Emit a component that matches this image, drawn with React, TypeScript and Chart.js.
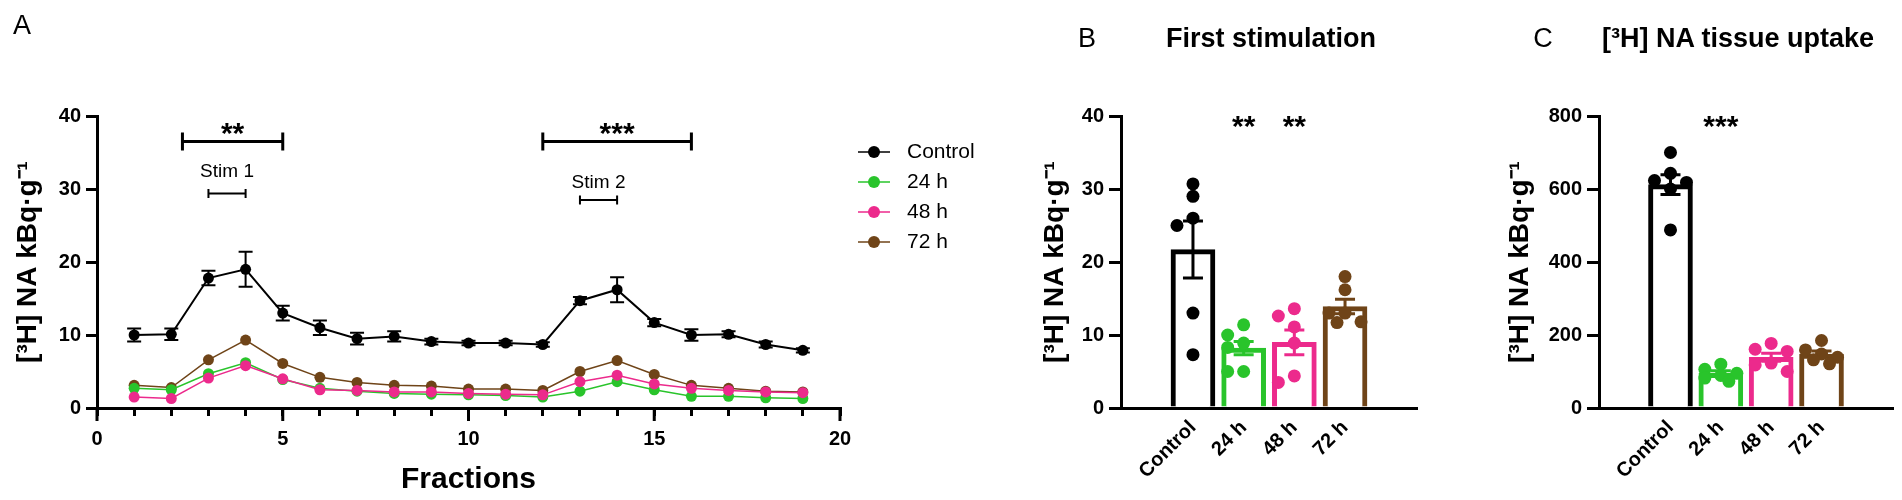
import React, { useEffect, useRef } from 'react'
import { Chart, registerables } from 'chart.js'

Chart.register(...registerables)

const FONT = "'Liberation Sans', Arial, sans-serif"
Chart.defaults.font.family = FONT
Chart.defaults.color = '#000'

// ---- panel A: release per fraction ----
const fractions = [1, 2, 3, 4, 5, 6, 7, 8, 9, 10, 11, 12, 13, 14, 15, 16, 17, 18, 19]
const controlRelease = [10.0, 10.1, 17.8, 19.0, 13.0, 11.0, 9.5, 9.8, 9.1, 8.9, 8.9, 8.7, 14.7, 16.2, 11.7, 10.0, 10.1, 8.7, 7.9]
const controlReleaseSem = [0.9, 0.8, 1.0, 2.4, 1.0, 1.0, 0.8, 0.7, 0.4, 0.3, 0.3, 0.3, 0.5, 1.7, 0.5, 0.8, 0.4, 0.4, 0.3]
const release24h = [2.7, 2.5, 4.7, 6.2, 3.9, 2.7, 2.3, 2.0, 1.9, 1.8, 1.7, 1.5, 2.3, 3.6, 2.5, 1.6, 1.6, 1.4, 1.3]
const release48h = [1.5, 1.3, 4.1, 5.8, 4.0, 2.5, 2.4, 2.2, 2.2, 2.0, 1.9, 1.8, 3.6, 4.5, 3.3, 2.7, 2.4, 2.2, 2.1]
const release72h = [3.1, 2.8, 6.6, 9.3, 6.1, 4.2, 3.5, 3.1, 3.0, 2.6, 2.6, 2.4, 5.0, 6.5, 4.6, 3.1, 2.7, 2.3, 2.2]

const sigBrackets = [
  { from: 2.3, to: 5, y: 36.5, label: '**' },
  { from: 12, to: 16, y: 36.5, label: '***' },
]
const stimBars = [
  { from: 3, to: 4, y: 29.4, label: 'Stim 1', labelY: 32.3 },
  { from: 13, to: 14, y: 28.5, label: 'Stim 2', labelY: 30.8 },
]

// ---- shared groups ----
const groups = ['Control', '24 h', '48 h', '72 h']
const groupColors = ['#000000', '#29c42b', '#ec2a8c', '#6f4418']

// ---- panel B: first stimulation ----
const firstStimPoints = [
  [30.7, 29.0, 26.0, 25.0, 13.0, 7.3],
  [11.4, 10.0, 8.9, 8.3, 5.0, 5.0],
  [13.6, 12.6, 11.1, 8.9, 4.4, 3.5],
  [18.0, 16.2, 13.0, 13.0, 11.8, 11.7],
]
const firstStimMean = [21.7, 8.2, 9.0, 13.9]
const firstStimSem = [3.9, 0.9, 1.7, 1.0]
const firstStimSig = ['', '**', '**', '']

// ---- panel C: tissue uptake ----
const uptakePoints = [
  [700, 643, 623, 618, 600, 488],
  [120, 106, 95, 89, 82, 73],
  [177, 161, 155, 123, 118, 100],
  [185, 159, 148, 139, 132, 121],
]
const uptakeMean = [612, 95, 139, 148]
const uptakeSem = [27, 7, 11, 8]
const uptakeSig = ['', '***', '', '']

const yTitle = '[³H] NA kBq·g⁻¹'

function makeErrorBars(datasetIndex: number, sems: number[], colors: string[], cap: number, width: number) {
  return {
    id: 'errorBars',
    afterDatasetDraw(chart: any, args: any) {
      if (args.index !== datasetIndex) return
      const { ctx } = chart
      const yScale = chart.scales.y
      const data = chart.data.datasets[datasetIndex].data
      ctx.save()
      ctx.lineWidth = width
      args.meta.data.forEach((el: any, i: number) => {
        const sem = sems[i]
        if (!sem) return
        const top = yScale.getPixelForValue(data[i].y + sem)
        const bot = yScale.getPixelForValue(data[i].y - sem)
        ctx.strokeStyle = colors[i % colors.length]
        ctx.beginPath()
        ctx.moveTo(el.x, top)
        ctx.lineTo(el.x, bot)
        ctx.moveTo(el.x - cap, top)
        ctx.lineTo(el.x + cap, top)
        ctx.moveTo(el.x - cap, bot)
        ctx.lineTo(el.x + cap, bot)
        ctx.stroke()
      })
      ctx.restore()
    },
  }
}

// spread overlapping dots sideways (column scatter), kept within one step of the centre
const swarmPlugin = {
  id: 'swarm',
  afterDatasetsUpdate(chart: any) {
    chart.data.datasets.forEach((ds: any, di: number) => {
      if (ds.type !== 'scatter') return
      const meta = chart.getDatasetMeta(di)
      const d = 11
      const step = 16
      const placed: { x: number; y: number }[] = []
      const order = meta.data.map((_: any, i: number) => i).sort((a: number, b: number) => meta.data[a].y - meta.data[b].y)
      order.forEach((i: number) => {
        const el = meta.data[i]
        const cx = el.x
        let best = 0
        let bestGap = -1
        for (const o of [0, -step, step, -step / 2, step / 2]) {
          const gap = placed.reduce((m, p) => Math.min(m, Math.hypot(p.x - (cx + o), p.y - el.y)), Infinity)
          if (gap >= d) {
            best = o
            break
          }
          if (gap > bestGap) {
            bestGap = gap
            best = o
          }
        }
        el.x = cx + best
        placed.push({ x: el.x, y: el.y })
      })
    })
  },
}

function makeSigLabels(labels: string[], yValue: number) {
  return {
    id: 'sigLabels',
    afterDraw(chart: any) {
      const { ctx, scales } = chart
      ctx.save()
      ctx.font = `bold 30px ${FONT}`
      ctx.fillStyle = '#000'
      ctx.textAlign = 'center'
      ctx.textBaseline = 'alphabetic'
      labels.forEach((s, i) => {
        if (!s) return
        ctx.fillText(s, scales.x.getPixelForValue(i), scales.y.getPixelForValue(yValue))
      })
      ctx.restore()
    },
  }
}

const releaseAnnotations = {
  id: 'releaseAnnotations',
  afterDraw(chart: any) {
    const { ctx, scales, chartArea } = chart
    const x = scales.x
    const y = scales.y
    ctx.save()
    ctx.strokeStyle = '#000'
    ctx.fillStyle = '#000'
    ctx.textAlign = 'center'

    // longer marks on the labelled fractions
    ctx.lineWidth = 3
    ctx.beginPath()
    x.ticks.forEach((t: any) => {
      if (t.value % 5 !== 0) return
      const px = x.getPixelForValue(t.value)
      ctx.moveTo(px, chartArea.bottom)
      ctx.lineTo(px, chartArea.bottom + 13)
    })
    ctx.stroke()

    sigBrackets.forEach((b) => {
      const x1 = x.getPixelForValue(b.from)
      const x2 = x.getPixelForValue(b.to)
      const py = y.getPixelForValue(b.y)
      ctx.lineWidth = 3
      ctx.beginPath()
      ctx.moveTo(x1, py)
      ctx.lineTo(x2, py)
      ctx.moveTo(x1, py - 9)
      ctx.lineTo(x1, py + 9)
      ctx.moveTo(x2, py - 9)
      ctx.lineTo(x2, py + 9)
      ctx.stroke()
      ctx.font = `bold 30px ${FONT}`
      ctx.textBaseline = 'alphabetic'
      ctx.fillText(b.label, (x1 + x2) / 2, py + 1)
    })
    stimBars.forEach((s) => {
      const x1 = x.getPixelForValue(s.from)
      const x2 = x.getPixelForValue(s.to)
      const py = y.getPixelForValue(s.y)
      ctx.lineWidth = 2
      ctx.beginPath()
      ctx.moveTo(x1, py)
      ctx.lineTo(x2, py)
      ctx.moveTo(x1, py - 4.5)
      ctx.lineTo(x1, py + 4.5)
      ctx.moveTo(x2, py - 4.5)
      ctx.lineTo(x2, py + 4.5)
      ctx.stroke()
      ctx.font = `19px ${FONT}`
      ctx.textBaseline = 'middle'
      ctx.fillText(s.label, (x1 + x2) / 2, y.getPixelForValue(s.labelY))
    })
    ctx.restore()
  },
}

const seriesLegend = {
  id: 'seriesLegend',
  afterDraw(chart: any) {
    const { ctx } = chart
    ctx.save()
    groups.forEach((name, i) => {
      const y = 152 + i * 30
      ctx.strokeStyle = groupColors[i]
      ctx.lineWidth = 1.5
      ctx.beginPath()
      ctx.moveTo(858, y)
      ctx.lineTo(890, y)
      ctx.stroke()
      ctx.fillStyle = groupColors[i]
      ctx.beginPath()
      ctx.arc(874, y, 6, 0, Math.PI * 2)
      ctx.fill()
      ctx.fillStyle = '#000'
      ctx.font = `21px ${FONT}`
      ctx.textAlign = 'left'
      ctx.textBaseline = 'middle'
      ctx.fillText(name, 907, y)
    })
    ctx.restore()
  },
}

const axisLine = { display: true, width: 3, color: '#000' }

function ReleaseChart() {
  const ref = useRef<HTMLCanvasElement>(null)

  useEffect(() => {
    const canvas = ref.current
    if (!canvas) return

    const series = [controlRelease, release24h, release48h, release72h]
    const drawOrder = [0, 2, 1, 3]

    const chart = new Chart(canvas, {
      type: 'line',
      data: {
        datasets: series.map((vals, i) => ({
          label: groups[i],
          data: vals.map((v, k) => ({ x: fractions[k], y: v })),
          borderColor: groupColors[i],
          backgroundColor: groupColors[i],
          borderWidth: i === 0 ? 2 : 1.5,
          pointRadius: 5.5,
          pointBorderWidth: 0,
          pointBackgroundColor: groupColors[i],
          order: drawOrder[i],
        })),
      },
      options: {
        responsive: false,
        animation: false,
        layout: { padding: { top: 116, right: 160, left: 0, bottom: 0 } },
        plugins: { legend: { display: false }, tooltip: { enabled: false } },
        scales: {
          x: {
            type: 'linear',
            min: 0,
            max: 20,
            afterFit: (s: any) => {
              s.height = 92
            },
            ticks: {
              stepSize: 1,
              autoSkip: false,
              maxRotation: 0,
              padding: 11,
              font: { size: 20, weight: 'bold' },
              callback: (v: any) => (v % 5 === 0 ? String(v) : ''),
            },
            grid: { drawOnChartArea: false, tickLength: 8, lineWidth: 3, color: '#000' },
            border: axisLine,
            title: { display: true, text: 'Fractions', font: { size: 30, weight: 'bold' }, padding: { top: 0, bottom: 2 } },
          },
          y: {
            min: 0,
            max: 40,
            afterFit: (s: any) => {
              s.width = 97
            },
            ticks: { stepSize: 10, padding: 5, font: { size: 20, weight: 'bold' } },
            grid: { drawOnChartArea: false, tickLength: 11, lineWidth: 3, color: '#000' },
            border: axisLine,
            title: { display: true, text: yTitle, font: { size: 28, weight: 'bold' }, padding: { top: 11, bottom: 0 } },
          },
        },
      },
      plugins: [makeErrorBars(0, controlReleaseSem, ['#000'], 7, 2), releaseAnnotations, seriesLegend],
    } as any)

    return () => {
      chart.destroy()
    }
  }, [])

  return <canvas ref={ref} width={1000} height={500} />
}

interface ColumnProps {
  width: number
  axisWidth: number
  titlePad: number
  rightPad: number
  yMax: number
  yStep: number
  means: number[]
  sems: number[]
  points: number[][]
  sig: string[]
  sigY: number
}

function ColumnChart(props: ColumnProps) {
  const ref = useRef<HTMLCanvasElement>(null)

  useEffect(() => {
    const canvas = ref.current
    if (!canvas) return
    const { axisWidth, titlePad, rightPad, yMax, yStep, means, sems, points, sig, sigY } = props

    const dots = points.flatMap((vals, gi) => vals.map((v) => ({ x: gi, y: v })))
    const dotColors = points.flatMap((vals, gi) => vals.map(() => groupColors[gi]))

    const chart = new Chart(canvas, {
      type: 'bar',
      data: {
        datasets: [
          {
            type: 'bar',
            data: means.map((m, i) => ({ x: i, y: m })),
            backgroundColor: '#ffffff',
            borderColor: groupColors,
            borderWidth: 5,
            barThickness: 44,
            order: 2,
          },
          {
            type: 'scatter',
            data: dots,
            pointBackgroundColor: dotColors,
            pointBorderWidth: 0,
            pointRadius: 6.5,
            order: 1,
          },
        ],
      },
      options: {
        responsive: false,
        animation: false,
        layout: { padding: { top: 116, right: rightPad, left: 0, bottom: 0 } },
        plugins: { legend: { display: false }, tooltip: { enabled: false } },
        scales: {
          x: {
            type: 'linear',
            min: -0.69,
            max: groups.length - 1 + 0.69,
            afterBuildTicks: (s: any) => {
              s.ticks = groups.map((_, i) => ({ value: i }))
            },
            afterFit: (s: any) => {
              s.height = 92
            },
            ticks: {
              autoSkip: false,
              minRotation: 45,
              maxRotation: 45,
              padding: 8,
              font: { size: 20, weight: 'bold' },
              callback: (v: any) => groups[v],
            },
            grid: { display: false, drawTicks: false },
            border: axisLine,
          },
          y: {
            min: 0,
            max: yMax,
            afterFit: (s: any) => {
              s.width = axisWidth
            },
            ticks: { stepSize: yStep, padding: 5, font: { size: 20, weight: 'bold' } },
            grid: { drawOnChartArea: false, tickLength: 12, lineWidth: 3, color: '#000' },
            border: axisLine,
            title: { display: true, text: yTitle, font: { size: 28, weight: 'bold' }, padding: { top: titlePad, bottom: 0 } },
          },
        },
      },
      plugins: [swarmPlugin, makeErrorBars(0, sems, groupColors, 10, 3), makeSigLabels(sig, sigY)],
    } as any)

    return () => {
      chart.destroy()
    }
  }, [])

  return <canvas ref={ref} width={props.width} height={500} />
}

const label = (x: number, y: number, bold: boolean, size: number): React.CSSProperties => ({
  position: 'absolute',
  left: x,
  top: y,
  transform: 'translate(-50%, -50%)',
  fontFamily: FONT,
  fontWeight: bold ? 'bold' : 'normal',
  fontSize: size,
  whiteSpace: 'nowrap',
  color: '#000',
})

export default function App() {
  return (
    <div style={{ position: 'absolute', left: 0, top: 0, width: 1902, height: 500, background: '#fff', overflow: 'hidden' }}>
      <div style={{ position: 'absolute', left: 0, top: 0 }}>
        <ReleaseChart />
      </div>
      <div style={{ position: 'absolute', left: 1000, top: 0 }}>
        <ColumnChart
          width={430}
          axisWidth={121}
          titlePad={38}
          rightPad={13}
          yMax={40}
          yStep={10}
          means={firstStimMean}
          sems={firstStimSem}
          points={firstStimPoints}
          sig={firstStimSig}
          sigY={37.3}
        />
      </div>
      <div style={{ position: 'absolute', left: 1440, top: 0 }}>
        <ColumnChart
          width={462}
          axisWidth={159}
          titlePad={63}
          rightPad={9}
          yMax={800}
          yStep={200}
          means={uptakeMean}
          sems={uptakeSem}
          points={uptakePoints}
          sig={uptakeSig}
          sigY={746}
        />
      </div>
      <div style={label(22, 25, false, 27)}>A</div>
      <div style={label(1087, 38, false, 27)}>B</div>
      <div style={label(1271, 38, true, 27)}>First stimulation</div>
      <div style={label(1543, 38, false, 27)}>C</div>
      <div style={label(1738, 38, true, 27)}>[³H] NA tissue uptake</div>
    </div>
  )
}
